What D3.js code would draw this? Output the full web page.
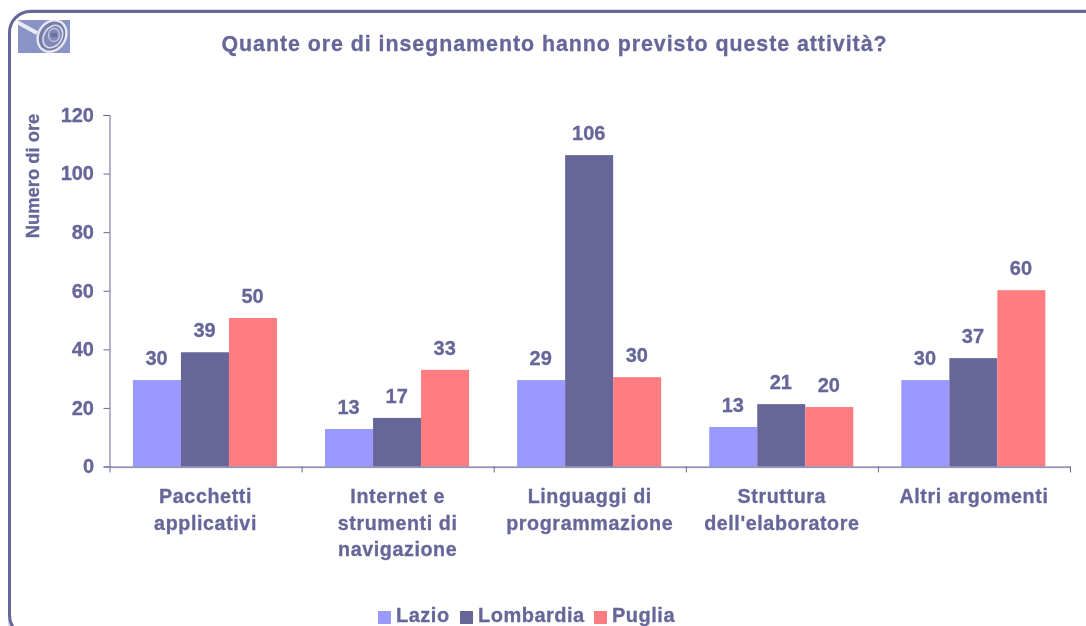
<!DOCTYPE html>
<html><head><meta charset="utf-8">
<script src="https://cdn.jsdelivr.net/npm/d3@7"></script>
<style>
html,body{margin:0;padding:0;background:#fff;overflow:hidden}
svg{display:block}
text{font-family:"Liberation Sans",Arial,sans-serif;font-weight:700;fill:#666699;stroke:#666699;stroke-width:0.3px}
</style></head><body>
<svg id="c" width="1086" height="626"></svg>
<script>
const categories=[["Pacchetti","applicativi"],["Internet e","strumenti di","navigazione"],["Linguaggi di","programmazione"],["Struttura","dell'elaboratore"],["Altri argomenti"]];
const seriesNames=["Lazio","Lombardia","Puglia"];
const seriesColors=["#9999FF","#666699","#FF7C80"];
const lazio=[29.5,12.8,29.5,13.5,29.5];
const lombardia=[39,16.6,106.3,21.3,37];
const puglia=[50.7,33,30.5,20.3,60.2];
const lazioLabels=["30","13","29","13","30"];
const lombardiaLabels=["39","17","106","21","37"];
const pugliaLabels=["50","33","30","20","60"];
const yTicks=[0,20,40,60,80,100,120];
const titleText="Quante ore di insegnamento hanno previsto queste attività?";
const yTitle="Numero di ore";

const svg=d3.select("#c");
const defs=svg.append("defs");
defs.append("filter").attr("id","soft").append("feGaussianBlur").attr("stdDeviation",0.35);
defs.append("filter").attr("id","logoblur").append("feGaussianBlur").attr("stdDeviation",0.7);
const root=svg.append("g");

// frame
root.append("rect").attr("x",9).attr("y",10).attr("width",1120).attr("height",640).attr("rx",22)
  .attr("fill","none").attr("stroke","#b4b4d0").attr("stroke-width",1);
root.append("rect").attr("x",9.5).attr("y",11.5).attr("width",1100).attr("height",625).attr("rx",21)
  .attr("fill","#fff").attr("stroke","#666699").attr("stroke-width",3);

// logo
const logo=root.append("g").attr("transform","translate(18,20)");
const lc=logo.append("svg").attr("width",52).attr("height",33).append("g").attr("filter","url(#logoblur)");
lc.append("rect").attr("x",-3).attr("y",-3).attr("width",58).attr("height",39).attr("fill","#8a93c6");
lc.append("line").attr("x1",-1).attr("y1",2).attr("x2",19).attr("y2",13).attr("stroke","#e8eaf4").attr("stroke-width",4);
const rot="rotate(32 34 16)";
lc.append("ellipse").attr("cx",34).attr("cy",16).attr("rx",13.5).attr("ry",16.5).attr("transform",rot)
  .attr("fill","#777ba6").attr("stroke","#e6e8f2").attr("stroke-width",2.4);
lc.append("ellipse").attr("cx",35).attr("cy",16).attr("rx",9).attr("ry",12).attr("transform",rot)
  .attr("fill","#8289b8").attr("stroke","#d9dcec").attr("stroke-width",1.6);
lc.append("ellipse").attr("cx",36).attr("cy",15).attr("rx",5.5).attr("ry",6.5).attr("fill","none").attr("stroke","#bfc3dd").attr("stroke-width",1.3);
lc.append("rect").attr("x",33).attr("y",13).attr("width",6).attr("height",4).attr("fill","#6c71a2");

const x0=109.5,x1=1070,yTop=115,yBase=466.5;
const y=d3.scaleLinear().domain([0,120]).range([yBase,yTop]);
const xPos=d3.scaleLinear().domain([0,5]).range([x0,x1]);
const xBand=d3.scaleBand().domain(d3.range(5)).range([x0,x1]).paddingInner(0.25).paddingOuter(0.125);
const xBar=d3.scaleBand().domain(d3.range(3)).range([0,xBand.bandwidth()]);
const values=[lazio,lombardia,puglia];
const labels=[lazioLabels,lombardiaLabels,pugliaLabels];

// bars
const plot=root.append("g").attr("transform","translate(-0.6,0)");
seriesNames.forEach((n,s)=>{
  plot.append("g").selectAll("rect").data(values[s]).join("rect")
    .attr("x",(d,i)=>xBand(i)+xBar(s)).attr("width",xBar.bandwidth())
    .attr("y",d=>y(d)).attr("height",d=>y(0)-y(d)).attr("fill",seriesColors[s]);
});

// axes
const yAxis=d3.axisLeft(y).tickValues(yTicks).tickSize(6).tickPadding(9.5).tickSizeOuter(6);
const ga=root.append("g").attr("transform",`translate(${x0},0)`).call(yAxis);
ga.selectAll("line,path").attr("stroke","#666699").attr("stroke-width",1);
ga.selectAll("text").attr("font-size",20).attr("fill","#666699").attr("font-family",null).attr("filter","url(#soft)");

root.append("line").attr("x1",x0).attr("x2",x1).attr("y1",yBase+1.2).attr("y2",yBase+1.2).attr("stroke","#b9b9d6").attr("stroke-width",1);
const xAxis=d3.axisBottom(xPos).tickValues(d3.range(6)).tickSize(6).tickSizeOuter(0).tickFormat("");
const gx=root.append("g").attr("transform",`translate(0,${yBase})`).call(xAxis);
gx.selectAll("line,path").attr("stroke","#666699").attr("stroke-width",1);

// text layer
const t=root.append("g").attr("filter","url(#soft)");
seriesNames.forEach((n,s)=>{
  t.append("g").selectAll("text").data(labels[s]).join("text")
    .attr("x",(d,i)=>xBand(i)+xBar(s)+xBar.bandwidth()/2-1)
    .attr("y",(d,i)=>y(values[s][i])-22).attr("dy","0.36em")
    .attr("text-anchor","middle").attr("font-size",20).text(d=>d);
});
categories.forEach((lines,i)=>{
  const cx=xBand(i)+xBand.bandwidth()/2;
  lines.forEach((l,k)=>{
    t.append("text").attr("x",cx).attr("y",496+k*26.5).attr("dy","0.36em")
     .attr("text-anchor","middle").attr("font-size",19.7).attr("letter-spacing",0.6).text(l);
  });
});
t.append("text").attr("x",554.5).attr("y",43).attr("dy","0.36em").attr("text-anchor","middle")
  .attr("font-size",21.4).attr("letter-spacing",0.95).text(titleText);
t.append("text").attr("transform","translate(32,176) rotate(-90)").attr("dy","0.36em").attr("text-anchor","middle")
  .attr("font-size",18.4).text(yTitle);

// legend
const legendSq=[378,460,594], legendTx=[396,478,612];
seriesNames.forEach((n,s)=>{
  root.append("rect").attr("x",legendSq[s]).attr("y",611).attr("width",13).attr("height",13).attr("fill",seriesColors[s]);
  t.append("text").attr("x",legendTx[s]).attr("y",622).attr("font-size",20).attr("letter-spacing",0.5).text(n);
});
</script>
</body></html>
